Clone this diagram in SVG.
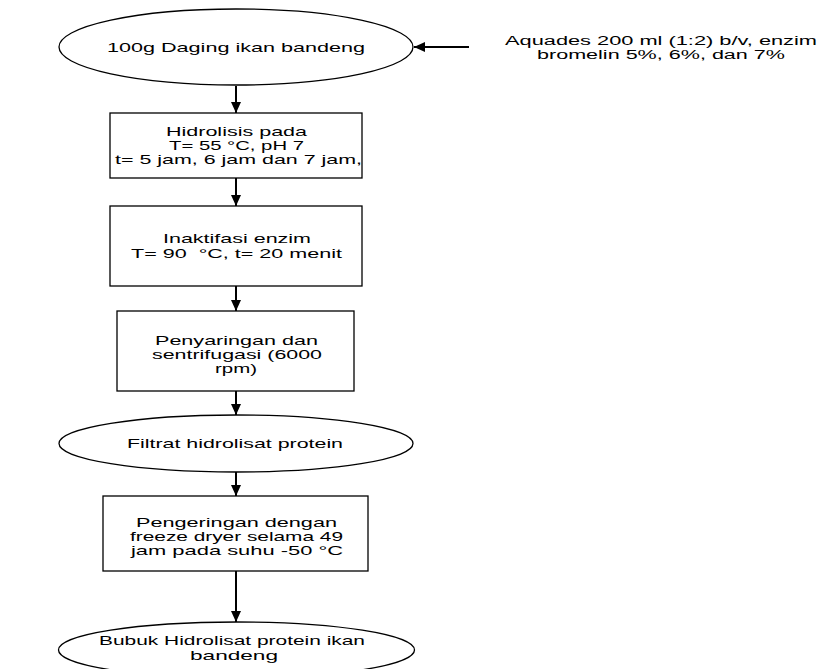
<svg xmlns="http://www.w3.org/2000/svg" width="822" height="669" viewBox="0 0 822 669">
<style>
.shape{fill:#fff;stroke:#000;stroke-width:1.3}
.t{font-family:"Liberation Sans",Arial,sans-serif;font-size:13px;fill:#000;text-anchor:middle;white-space:pre}
.s{font-size:12.5px}
.conn{stroke:#000;stroke-width:2;fill:none}
</style>
<defs>
<marker id="ah" markerUnits="userSpaceOnUse" markerWidth="11" markerHeight="10" refX="11" refY="5" orient="auto">
<path d="M0,0 L11,5 L0,10 z" fill="#000"/>
</marker>
</defs>
<rect width="822" height="669" fill="#fff"/>
<g id="connectors">
<line class="conn" x1="236" y1="86" x2="236" y2="113" marker-end="url(#ah)"/>
<line class="conn" x1="236" y1="178" x2="236" y2="206" marker-end="url(#ah)"/>
<line class="conn" x1="236" y1="286" x2="236" y2="311" marker-end="url(#ah)"/>
<line class="conn" x1="236" y1="391" x2="236" y2="415" marker-end="url(#ah)"/>
<line class="conn" x1="236" y1="472" x2="236" y2="496" marker-end="url(#ah)"/>
<line class="conn" x1="236" y1="571" x2="236" y2="622" marker-end="url(#ah)"/>
<line class="conn" x1="469" y1="47" x2="414" y2="47" marker-end="url(#ah)" stroke-width="1.5"/>
</g>
<g id="n1">
<ellipse class="shape" cx="236" cy="47" rx="177" ry="38"/>
<text class="t" x="236" y="52" textLength="258" lengthAdjust="spacingAndGlyphs">100g Daging ikan bandeng</text>
</g>
<g id="input">
<text class="t s" x="661" y="45" textLength="312" lengthAdjust="spacingAndGlyphs">Aquades 200 ml (1:2) b/v, enzim</text>
<text class="t s" x="661" y="59" textLength="248" lengthAdjust="spacingAndGlyphs">bromelin 5%, 6%, dan 7%</text>
</g>
<g id="n2">
<rect class="shape" x="110" y="113" width="252" height="65"/>
<text class="t" x="236.5" y="136" textLength="141" lengthAdjust="spacingAndGlyphs">Hidrolisis pada</text>
<text class="t" x="236.5" y="150" textLength="135" lengthAdjust="spacingAndGlyphs">T= 55 °C, pH 7</text>
<text class="t" x="238.5" y="164" textLength="247" lengthAdjust="spacingAndGlyphs">t= 5 jam, 6 jam dan 7 jam,</text>
</g>
<g id="n3">
<rect class="shape" x="110" y="206" width="252" height="80"/>
<text class="t" x="237" y="243" textLength="148" lengthAdjust="spacingAndGlyphs">Inaktifasi enzim</text>
<text class="t" x="236.5" y="258" textLength="211" lengthAdjust="spacingAndGlyphs">T= 90  °C, t= 20 menit</text>
</g>
<g id="n4">
<rect class="shape" x="117" y="311" width="237" height="80"/>
<text class="t" x="236.5" y="345" textLength="163" lengthAdjust="spacingAndGlyphs">Penyaringan dan</text>
<text class="t" x="237" y="359" textLength="170" lengthAdjust="spacingAndGlyphs">sentrifugasi (6000</text>
<text class="t" x="236" y="373" textLength="42" lengthAdjust="spacingAndGlyphs">rpm)</text>
</g>
<g id="n5">
<ellipse class="shape" cx="236" cy="443.5" rx="177" ry="28.5"/>
<text class="t" x="235" y="448" textLength="216" lengthAdjust="spacingAndGlyphs">Filtrat hidrolisat protein</text>
</g>
<g id="n6">
<rect class="shape" x="103" y="496" width="265" height="75"/>
<text class="t" x="236.5" y="527" textLength="201" lengthAdjust="spacingAndGlyphs">Pengeringan dengan</text>
<text class="t" x="236.5" y="541" textLength="213" lengthAdjust="spacingAndGlyphs">freeze dryer selama 49</text>
<text class="t" x="237" y="555" textLength="212" lengthAdjust="spacingAndGlyphs">jam pada suhu -50 °C</text>
</g>
<g id="n7">
<ellipse class="shape" cx="236.5" cy="650" rx="178" ry="28"/>
<text class="t" x="232" y="645" textLength="266" lengthAdjust="spacingAndGlyphs">Bubuk Hidrolisat protein ikan</text>
<text class="t" x="234" y="660" textLength="88" lengthAdjust="spacingAndGlyphs">bandeng</text>
</g>
</svg>
